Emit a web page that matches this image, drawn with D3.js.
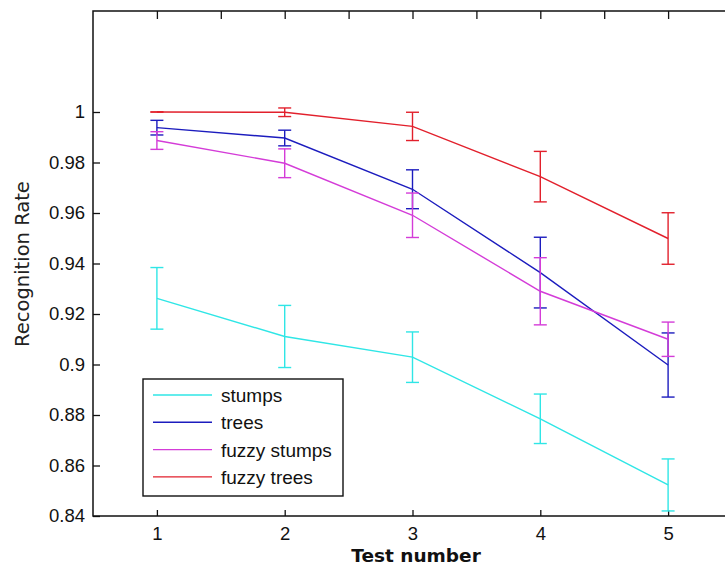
<!DOCTYPE html>
<html>
<head>
<meta charset="utf-8">
<script src="https://cdn.jsdelivr.net/npm/d3@7"></script>
<style>
  body { margin: 0; background: #fff; }
  svg { display: block; }
  .tick text { font-family: "Liberation Sans", Arial, sans-serif; font-size: 18.5px; fill: #111; }
  .tick line { stroke: #111; stroke-width: 1.3px; }
</style>
</head>
<body>
<script>
  var w = 725;
  var h = 568;

  // data
  var tests = [1, 2, 3, 4, 5];
  var stumps      = [0.9262, 0.9111, 0.9029, 0.8785, 0.8523];
  var stumpsErr   = [0.0122, 0.0123, 0.0100, 0.0098, 0.0103];
  var trees       = [0.9938, 0.9897, 0.9694, 0.9364, 0.8998];
  var treesErr    = [0.0029, 0.0031, 0.0077, 0.0140, 0.0127];
  var fuzzyStumps    = [0.9887, 0.9797, 0.9591, 0.9290, 0.9100];
  var fuzzyStumpsErr = [0.0035, 0.0057, 0.0088, 0.0133, 0.0068];
  var fuzzyTrees     = [1.0000, 0.9999, 0.9943, 0.9744, 0.9499];
  var fuzzyTreesErr  = [0.0000, 0.0017, 0.0056, 0.0100, 0.0102];

  var seriesNames = ['stumps', 'trees', 'fuzzy stumps', 'fuzzy trees'];
  var seriesColors = ['#2fe6e6', '#1c1cbe', '#d43cd8', '#e2202c'];
  var yTicks = [0.84, 0.86, 0.88, 0.9, 0.92, 0.94, 0.96, 0.98, 1];
  var topTicks = [1, 1.5, 2, 2.5, 3, 3.5, 4, 4.5, 5];

  var series = [
    { name: seriesNames[0], color: seriesColors[0], v: stumps, e: stumpsErr },
    { name: seriesNames[1], color: seriesColors[1], v: trees, e: treesErr },
    { name: seriesNames[2], color: seriesColors[2], v: fuzzyStumps, e: fuzzyStumpsErr },
    { name: seriesNames[3], color: seriesColors[3], v: fuzzyTrees, e: fuzzyTreesErr }
  ];

  var x = d3.scaleLinear().domain([0.5, 5.5]).range([93, 732]);
  var y = d3.scaleLinear().domain([0.84, 1.04]).range([516, 11]);

  var svg = d3.select('body').append('svg')
    .attr('width', w)
    .attr('height', h);

  svg.append('rect').attr('width', w).attr('height', h).attr('fill', '#fff');

  // axes (ticks pointing inward, matlab style)
  svg.append('g')
    .attr('transform', 'translate(' + x(0.5) + ',0)')
    .call(d3.axisLeft(y).tickValues(yTicks).tickSizeInner(-7).tickSizeOuter(0).tickPadding(8)
      .tickFormat(function(d){ return d3.format('~g')(+d.toFixed(2)); }))
    .call(function(g){ g.select('.domain').remove(); });

  svg.append('g')
    .attr('transform', 'translate(' + x(5.5) + ',0)')
    .call(d3.axisRight(y).tickValues(yTicks).tickSizeInner(-7).tickSizeOuter(0).tickFormat(''))
    .call(function(g){ g.select('.domain').remove(); });

  svg.append('g')
    .attr('transform', 'translate(0,' + y(0.84) + ')')
    .call(d3.axisBottom(x).tickValues(tests).tickSizeInner(-6).tickSizeOuter(0).tickPadding(11)
      .tickFormat(d3.format('d')))
    .call(function(g){ g.select('.domain').remove(); });

  svg.append('g')
    .attr('transform', 'translate(0,' + y(1.04) + ')')
    .call(d3.axisTop(x).tickValues(topTicks).tickSizeInner(-8).tickSizeOuter(0).tickFormat(''))
    .call(function(g){ g.select('.domain').remove(); });

  // frame
  svg.append('rect')
    .attr('x', x(0.5))
    .attr('y', y(1.04))
    .attr('width', x(5.5) - x(0.5))
    .attr('height', y(0.84) - y(1.04))
    .attr('fill', 'none')
    .attr('stroke', '#111')
    .attr('stroke-width', 1.5);

  /* LINES + ERROR BARS */
  var line = d3.line()
    .x(function(d, i){ return x(tests[i]); })
    .y(function(d){ return y(d); });

  var capW = 6.5;

  series.forEach(function(s){
    var g = svg.append('g').attr('stroke', s.color).attr('stroke-width', 1.4).attr('fill', 'none');

    g.append('path').attr('d', line(s.v));

    var bars = g.selectAll('g.err')
      .data(s.v)
      .enter()
      .append('g')
      .attr('class', 'err');

    bars.append('line')
      .attr('x1', function(d, i){ return x(tests[i]); })
      .attr('x2', function(d, i){ return x(tests[i]); })
      .attr('y1', function(d, i){ return y(d + s.e[i]); })
      .attr('y2', function(d, i){ return y(d - s.e[i]); });

    bars.append('line')
      .attr('x1', function(d, i){ return x(tests[i]) - capW; })
      .attr('x2', function(d, i){ return x(tests[i]) + capW; })
      .attr('y1', function(d, i){ return y(d + s.e[i]); })
      .attr('y2', function(d, i){ return y(d + s.e[i]); });

    bars.append('line')
      .attr('x1', function(d, i){ return x(tests[i]) - capW; })
      .attr('x2', function(d, i){ return x(tests[i]) + capW; })
      .attr('y1', function(d, i){ return y(d - s.e[i]); })
      .attr('y2', function(d, i){ return y(d - s.e[i]); });
  });

  /* LEGEND */
  var legend = svg.append('g');

  legend.append('rect')
    .attr('x', 143)
    .attr('y', 379)
    .attr('width', 200)
    .attr('height', 117)
    .attr('fill', '#fff')
    .attr('stroke', '#111')
    .attr('stroke-width', 1.4);

  var rows = legend.selectAll('g.row')
    .data(series)
    .enter()
    .append('g')
    .attr('class', 'row')
    .attr('transform', function(d, i){ return 'translate(0,' + (395 + i * 27.3) + ')'; });

  rows.append('line')
    .attr('x1', 153)
    .attr('x2', 212)
    .attr('stroke', function(d){ return d.color; })
    .attr('stroke-width', 1.4);

  rows.append('text')
    .attr('x', 221)
    .attr('y', 7)
    .attr('font-family', '"Liberation Sans", Arial, sans-serif')
    .attr('font-size', '19px')
    .attr('fill', '#111')
    .text(function(d){ return d.name; });

  /* AXIS TITLES */
  svg.append('text')
    .attr('x', 416)
    .attr('y', 562)
    .attr('text-anchor', 'middle')
    .attr('font-family', '"DejaVu Sans", Verdana, sans-serif')
    .attr('font-weight', 'bold')
    .attr('font-size', '18.5px')
    .attr('fill', '#111')
    .text('Test number');

  svg.append('text')
    .attr('transform', 'translate(29,264) rotate(-90)')
    .attr('text-anchor', 'middle')
    .attr('font-family', '"DejaVu Sans", Verdana, sans-serif')
    .attr('font-size', '19.5px')
    .attr('fill', '#222')
    .text('Recognition Rate');
</script>
</body>
</html>
